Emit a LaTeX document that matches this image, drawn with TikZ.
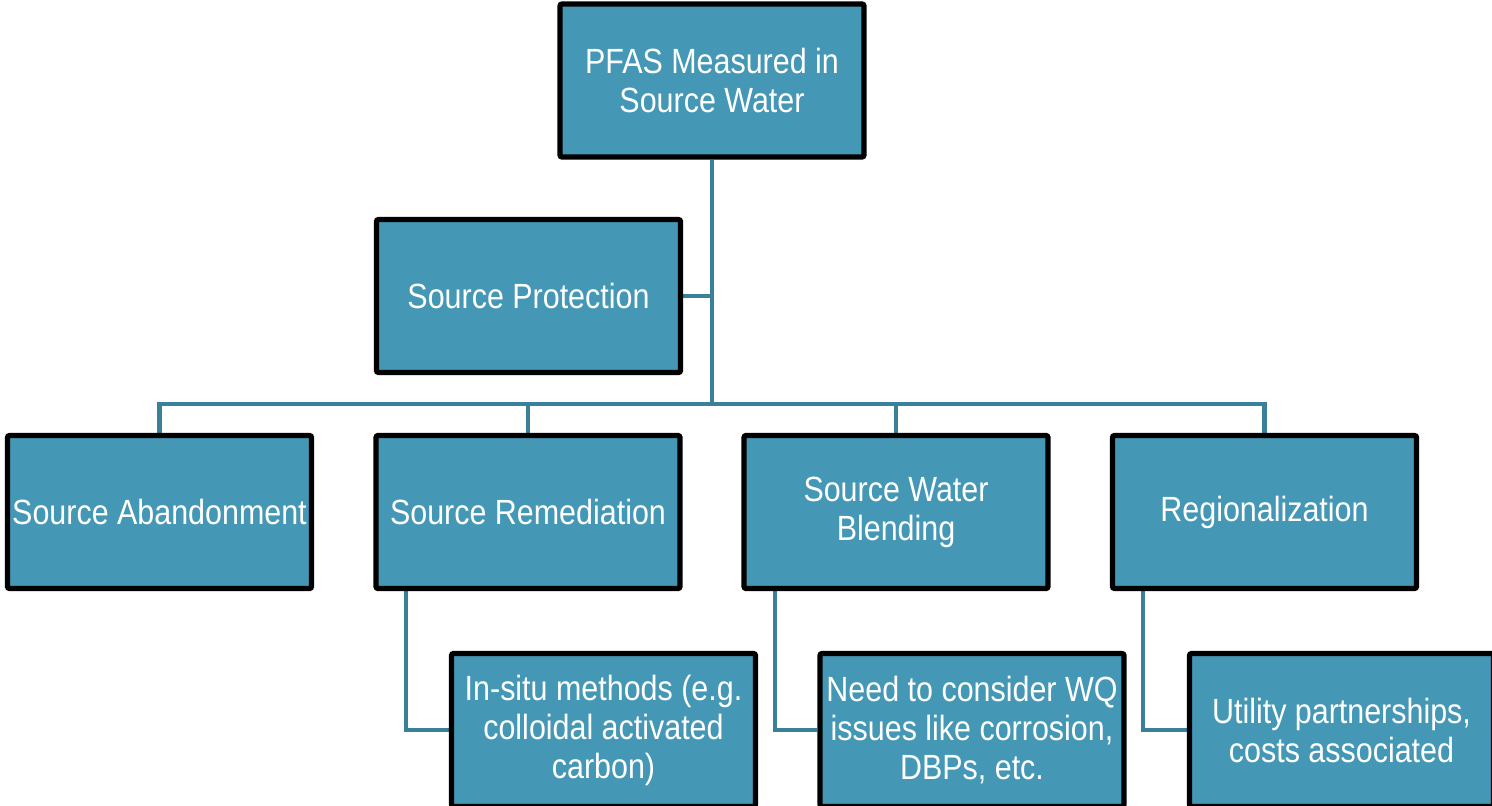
\documentclass[tikz,border=0pt]{standalone}
\usepackage{fontspec}
\setmainfont{Liberation Sans}[FakeStretch=0.87]
\usetikzlibrary{backgrounds}
\definecolor{boxfill}{HTML}{4498B6}
\definecolor{linkcol}{HTML}{3A8099}
\begin{document}
\begin{tikzpicture}[x=0.5pt,y=-0.5pt,
  box/.style={draw=black, line width=2.6pt, fill=boxfill, rounded corners=1pt,
    minimum width=152pt, minimum height=76.5pt, inner sep=0pt,
    align=center, text=white, font=\fontsize{17.5}{19.5}\selectfont},
  link/.style={draw=linkcol, line width=2.3pt}]
\useasboundingbox (0,0) rectangle (1492,805);
\clip (0,0) rectangle (1492,805);
\node[box] (top) at (712,80.5) {PFAS Measured in\\Source Water};
\node[box] (prot) at (528.5,296) {Source Protection};
\node[box] (aband) at (159.5,512) {Source Abandonment};
\node[box] (remed) at (528,512) {Source Remediation};
\node[box] (blend) at (896,512) {Source Water\\Blending};
\node[box] (region) at (1264.5,512) {Regionalization};
\node[box] (insitu) at (603.5,730) {In-situ methods (e.g.\\colloidal activated\\carbon)};
\node[box] (wq) at (972,730) {Need to consider WQ\\issues like corrosion,\\DBPs, etc.};
\node[box] (util) at (1341.5,730) {Utility partnerships,\\costs associated};
\coordinate (bus) at (712,404);
\coordinate (r1) at (406,590);
\coordinate (r2) at (775,590);
\coordinate (r3) at (1143,590);
\begin{scope}[on background layer]
\path[link] (top.south) -- (bus);
\path[link] (prot.east) -- (prot.east -| bus);
\path[link] (aband.north) |- (bus) -| (region.north);
\path[link] (remed.north) -- (remed.north |- bus);
\path[link] (blend.north) -- (blend.north |- bus);
\path[link] (r1) |- (insitu.west);
\path[link] (r2) |- (wq.west);
\path[link] (r3) |- (util.west);
\end{scope}
\end{tikzpicture}
\end{document}
